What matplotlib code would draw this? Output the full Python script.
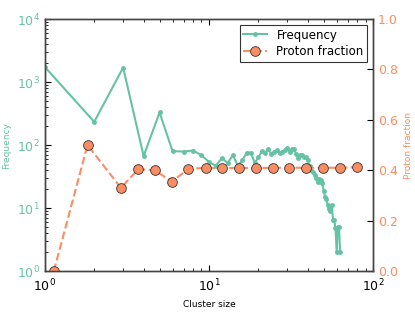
import matplotlib
matplotlib.use('Agg')
import matplotlib.pyplot as plt

# frequency of each cluster size
cluster_size = list(range(1, 64))
frequency = [1740, 234, 1700, 67, 330, 80, 79, 82, 69, 54,
             47, 62, 52, 69, 47, 58, 76, 76, 52, 64,
             80, 75, 86, 72, 78, 83, 75, 79, 83, 89,
             79, 86, 86, 72, 62, 69, 69, 64, 64, 58,
             46, 40, 37, 33, 30, 26, 29, 28, 25, 19,
             15, 14, 11, 9.6, 9, 11, 6.5, 6.5, 4.8, 2,
             5, 5, 2]

# proton fraction in log bins
bin_centre = [1.135, 1.82, 2.91, 3.71, 4.69, 5.92, 7.50, 9.55, 12.05,
              15.2, 19.3, 24.4, 30.9, 39.0, 49.3, 62.9, 79.6]
proton_fraction = [0.0, 0.50, 0.33, 0.405, 0.40, 0.355, 0.405, 0.41, 0.408,
                   0.41, 0.408, 0.41, 0.41, 0.41, 0.41, 0.41, 0.412]

green = '#66c2a5'
orange = '#fc8d62'

plt.rcParams['xtick.direction'] = 'in'
plt.rcParams['ytick.direction'] = 'in'
plt.rcParams['mathtext.default'] = 'regular'

fig = plt.figure(figsize=(4.15, 3.13), dpi=100)
ax = fig.add_axes([0.108, 0.134, 0.791, 0.805])
ax2 = ax.twinx()

l1, = ax.plot(cluster_size, frequency, '-o', color=green, lw=1.5, ms=2.5,
              mec=green, label='Frequency')
l2, = ax2.plot(bin_centre, proton_fraction, '--o', color=orange, lw=1.5, ms=7,
               mec='#333333', mew=0.6, label='Proton fraction')

ax.set_xscale('log')
ax.set_yscale('log')
ax.set_xlim(1, 100)
ax.set_ylim(1, 1e4)
ax2.set_ylim(0, 1.0)
ax2.set_yticks([0.0, 0.2, 0.4, 0.6, 0.8, 1.0])

ax.set_xlabel('Cluster size', fontsize=6.5)
ax.set_ylabel('Frequency', fontsize=6.5, color=green)
ax2.set_ylabel('Proton fraction', fontsize=6.5, color=orange)

ax.tick_params(axis='x', which='both', top=True, labelsize=9, pad=5)
ax.tick_params(axis='x', which='major', length=4)
ax.tick_params(axis='x', which='minor', length=2)
ax.tick_params(axis='y', which='both', right=False, labelsize=9, labelcolor=green)
ax.tick_params(axis='y', which='major', length=4)
ax.tick_params(axis='y', which='minor', length=2)
ax2.tick_params(axis='y', labelsize=9, labelcolor=orange, length=4)

for a in (ax, ax2):
    for s in a.spines.values():
        s.set_color('#444444')
        s.set_linewidth(1.0)

leg = ax2.legend([l1, l2], ['Frequency', 'Proton fraction'], loc='upper right',
                 fontsize=8.5, numpoints=1, fancybox=False, borderaxespad=0.5,
                 handlelength=2.0, borderpad=0.3, labelspacing=0.3)
leg.get_frame().set_edgecolor('black')
leg.get_frame().set_linewidth(0.8)

fig.savefig('out.png', dpi=100)
